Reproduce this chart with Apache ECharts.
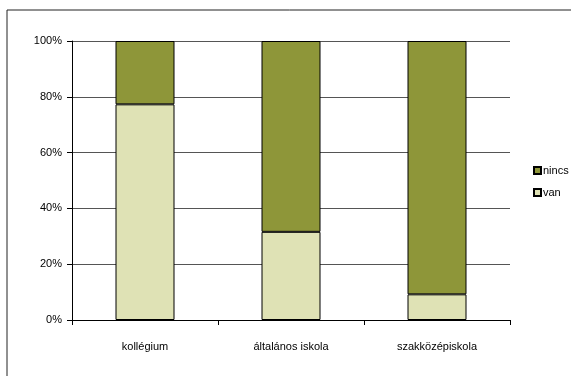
<!DOCTYPE html>
<html>
<head>
<meta charset="utf-8">
<script src="https://cdn.jsdelivr.net/npm/echarts@6/dist/echarts.min.js"></script>
<style>
  html, body { margin: 0; padding: 0; background: #fff; }
  #chart { width: 571px; height: 376px; }
</style>
</head>
<body>
<div id="chart"></div>
<script>
// School types along the x axis
const categories = ['kollégium', 'általános iskola', 'szakközépiskola'];
// Share of answers per school type (percent)
const van = [77.3, 31.6, 9.2];
const nincs = [22.7, 68.4, 90.8];
// Value axis ticks
const yTicks = [0, 20, 40, 60, 80, 100];

const chart = echarts.init(document.getElementById('chart'), null, { renderer: 'canvas' });

const font = { fontFamily: 'Liberation Sans, Arial, sans-serif', fontSize: 11, color: '#000' };

chart.setOption({
  animation: false,
  backgroundColor: '#fff',
  graphic: [{
    type: 'rect',
    shape: { x: 7, y: 10, width: 700, height: 500 },
    style: { fill: 'none', stroke: '#222', lineWidth: 1 },
    silent: true
  }],
  grid: { left: 72, right: 61, top: 41, bottom: 56, containLabel: false },
  legend: {
    orient: 'vertical',
    left: 528,
    top: 160,
    itemWidth: 7,
    itemHeight: 7,
    itemGap: 11,
    icon: 'rect',
    data: ['nincs', 'van'],
    textStyle: Object.assign({}, font, { padding: [0, 0, 0, -3] })
  },
  xAxis: {
    type: 'category',
    data: categories,
    boundaryGap: true,
    axisLine: { show: true, lineStyle: { color: '#000', width: 1 } },
    axisTick: { show: true, length: 5, lineStyle: { color: '#000' } },
    axisLabel: Object.assign({}, font, { margin: 21 }),
    splitLine: { show: false }
  },
  yAxis: {
    type: 'value',
    min: yTicks[0],
    max: yTicks[yTicks.length - 1],
    interval: yTicks[1] - yTicks[0],
    axisLine: { show: true, lineStyle: { color: '#000', width: 1 } },
    axisTick: { show: true, length: 5, lineStyle: { color: '#000' } },
    axisLabel: Object.assign({}, font, { margin: 10, formatter: '{value}%' }),
    splitLine: { show: true, lineStyle: { color: '#555', width: 1 } }
  },
  series: [
    {
      name: 'van',
      type: 'bar',
      stack: 'total',
      data: van,
      barWidth: 59,
      itemStyle: { color: '#DFE2B5', borderColor: '#000', borderWidth: 1 }
    },
    {
      name: 'nincs',
      type: 'bar',
      stack: 'total',
      data: nincs,
      barWidth: 59,
      itemStyle: { color: '#8E9639', borderColor: '#000', borderWidth: 1 }
    }
  ]
});
</script>
</body>
</html>
